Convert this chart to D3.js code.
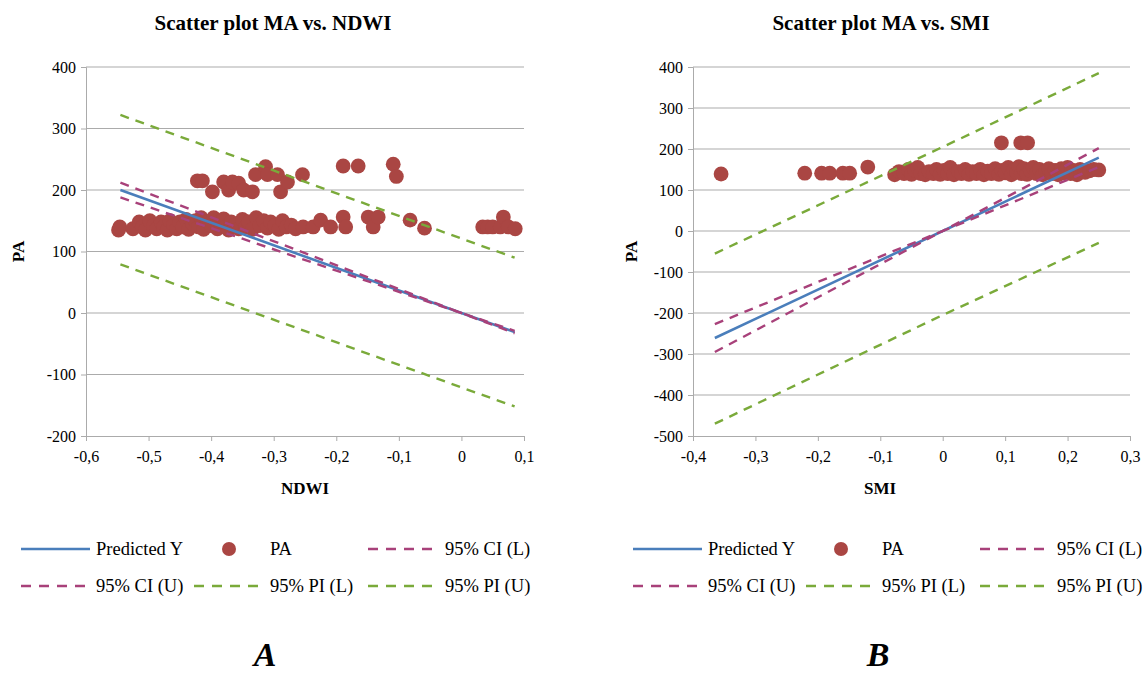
<!DOCTYPE html>
<html><head><meta charset="utf-8">
<script src="https://cdnjs.cloudflare.com/ajax/libs/d3/7.8.5/d3.min.js"></script>
<style>body{margin:0;background:#fff}svg{display:block}</style>
</head><body><svg id="c" width="1148" height="675"></svg>
<script>
// ---------- Data: chart A (NDWI) ----------
const ndwiX = [-0.548,-0.546,-0.525,-0.515,-0.510,-0.505,-0.498,-0.492,-0.487,-0.480,-0.476,-0.470,-0.466,-0.460,-0.455,-0.450,-0.445,-0.440,-0.436,-0.430,-0.425,-0.420,-0.416,-0.412,-0.405,-0.400,-0.396,-0.390,-0.386,-0.380,-0.376,-0.372,-0.368,-0.362,-0.356,-0.350,-0.345,-0.340,-0.334,-0.328,-0.322,-0.316,-0.310,-0.305,-0.298,-0.292,-0.286,-0.280,-0.272,-0.265,-0.253,-0.237,-0.225,-0.209,
 -0.189,-0.185,-0.149,-0.141,-0.133,-0.082,-0.059,0.034,0.042,0.050,0.062,0.067,0.075,0.086,
 -0.422,-0.414,-0.398,-0.380,-0.372,-0.366,-0.356,-0.348,-0.334,-0.329,-0.313,-0.310,-0.294,-0.289,-0.278,-0.254,-0.189,-0.165,-0.109,-0.104];
const ndwiPA = [135,140,137,148,140,135,150,142,137,148,140,135,150,143,137,148,140,152,136,145,150,140,155,136,148,142,155,137,148,153,140,135,148,143,137,152,140,148,136,155,142,150,138,148,142,136,150,140,143,137,140,140,151,140,
 156,140,156,140,156,151,138,140,140,140,140,156,140,137,
 215,215,197,213,200,213,211,200,197,225,238,225,225,197,213,225,239,239,242,222];
const ndwiLineX = [-0.545, 0, 0.085];
const ndwiPred  = [200, 0, -31];
const ndwiCIL   = [188, 0, -33];
const ndwiCIU   = [212, 0, -29];
const ndwiPIL   = [79, -121, -152];
const ndwiPIU   = [322, 121, 90];
const ndwiXTicks = [-0.6,-0.5,-0.4,-0.3,-0.2,-0.1,0,0.1];
const ndwiYTicks = [-200,-100,0,100,200,300,400];

// ---------- Data: chart B (SMI) ----------
const smiX = [-0.077,-0.070,-0.062,-0.055,-0.050,-0.045,-0.040,-0.035,-0.028,-0.022,-0.015,-0.010,-0.004,0.002,0.008,0.012,0.018,0.025,0.030,0.036,0.042,0.048,0.054,0.060,0.066,0.072,0.078,0.084,0.090,0.095,0.100,0.105,0.110,0.114,0.118,0.122,0.126,0.130,0.135,0.140,0.145,0.150,0.155,0.160,0.165,0.170,0.175,0.180,0.185,0.190,0.195,0.200,0.205,0.210,0.215,0.220,0.228,0.235,0.242,0.250,
 -0.355,-0.221,-0.194,-0.181,-0.160,-0.149,-0.120,
 0.094,0.125,0.136];
const smiPA = [137,145,140,150,138,148,155,140,137,145,140,150,138,148,140,155,137,145,140,150,138,145,140,150,137,146,140,152,138,148,142,155,137,150,144,157,140,152,138,148,155,140,150,137,145,152,140,148,137,152,142,155,140,148,137,150,143,147,150,149,
 139,141,141,141,141,141,156,
 215,215,215];
const smiLineX = [-0.365, 0, 0.25];
const smiPred  = [-261, 0, 179];
const smiCIL   = [-295, 0, 156];
const smiCIU   = [-227, 0, 202];
const smiPIL   = [-470, -205, -29];
const smiPIU   = [-55, 205, 385];
const smiXTicks = [-0.4,-0.3,-0.2,-0.1,0,0.1,0.2,0.3];
const smiYTicks = [-500,-400,-300,-200,-100,0,100,200,300,400];

const legendItems = ["Predicted Y","PA","95% CI (L)","95% CI (U)","95% PI (L)","95% PI (U)"];

const C = {pred:"#4A7EBB", pt:"#AA4643", ci:"#A8417A", pi:"#7AAA3A", grid:"#ABABAB"};
const FF = "'Liberation Serif','Times New Roman',serif";
const fmt = v => (v===0 ? "0" : String(v).replace(".", ","));

const svg = d3.select("#c");

function chart(o){
  const g = svg.append("g").attr("font-family",FF);
  const x = d3.scaleLinear().domain(o.xd).range([o.L, o.R]);
  const y = d3.scaleLinear().domain(o.yd).range([o.B, o.T]);
  g.selectAll(".gl").data(o.yt.filter(v=>v!==o.yd[0])).enter().append("line")
    .attr("x1",o.L).attr("x2",o.R).attr("y1",d=>y(d)).attr("y2",d=>y(d))
    .attr("stroke",C.grid).attr("stroke-width",1);
  const ya = g.append("g").attr("transform",`translate(${o.L},0)`)
    .call(d3.axisLeft(y).tickValues(o.yt).tickSize(5).tickPadding(5).tickFormat(fmt));
  const xa = g.append("g").attr("transform",`translate(0,${o.B})`)
    .call(d3.axisBottom(x).tickValues(o.xt).tickSize(5).tickPadding(10).tickFormat(fmt));
  [ya,xa].forEach(a=>{
    a.attr("font-family",FF).attr("font-size",16);
    a.selectAll("path,line").attr("stroke",C.grid);
    a.selectAll("text").attr("fill","#000");
  });
  const line = d3.line().x(d=>x(d[0])).y(d=>y(d[1]));
  const mk = (ys)=>o.lx.map((v,i)=>[v,ys[i]]);
  const pts = o.px.map((v,i)=>[v,o.py[i]]);
  g.selectAll(".pt").data(pts).enter().append("circle")
    .attr("cx",d=>x(d[0])).attr("cy",d=>y(d[1])).attr("r",7.4).attr("fill",C.pt);
  g.append("path").attr("d",line(mk(o.pred))).attr("fill","none").attr("stroke",C.pred).attr("stroke-width",2.6);
  [o.ciL,o.ciU].forEach(s=>g.append("path").attr("d",line(mk(s))).attr("fill","none")
    .attr("stroke",C.ci).attr("stroke-width",2.4).attr("stroke-dasharray","9,7"));
  [o.piL,o.piU].forEach(s=>g.append("path").attr("d",line(mk(s))).attr("fill","none")
    .attr("stroke",C.pi).attr("stroke-width",2.4).attr("stroke-dasharray","9,7"));
  g.append("text").attr("x",o.titleX).attr("y",30).attr("text-anchor","middle")
    .attr("font-size",21).attr("font-weight","bold").text(o.title);
  g.append("text").attr("x",o.xlabX).attr("y",494).attr("text-anchor","middle")
    .attr("font-size",17).attr("font-weight","bold").text(o.xlab);
  g.append("text").attr("transform",`translate(${o.ylabX},${(o.T+o.B)/2}) rotate(-90)`)
    .attr("text-anchor","middle").attr("dy","0.35em").attr("font-size",17).attr("font-weight","bold").text("PA");
  const r1 = 549, r2 = 586;
  const lg = g.append("g").attr("transform",`translate(${o.legX},0)`);
  const seg = (x1,x2,yy,col,dash)=>lg.append("line").attr("x1",x1).attr("x2",x2).attr("y1",yy).attr("y2",yy)
    .attr("stroke",col).attr("stroke-width",2.6).attr("stroke-dasharray",dash?"10,8":null);
  const txt = (xx,yy,t)=>lg.append("text").attr("x",xx).attr("y",yy+6).attr("font-size",18.5).text(t);
  seg(21,90,r1,C.pred,false); txt(96,r1,legendItems[0]);
  lg.append("circle").attr("cx",229).attr("cy",r1).attr("r",7).attr("fill",C.pt); txt(270,r1,legendItems[1]);
  seg(368,433,r1,C.ci,true); txt(445,r1,legendItems[2]);
  seg(21,86,r2,C.ci,true); txt(96,r2,legendItems[3]);
  seg(194,260,r2,C.pi,true); txt(270,r2,legendItems[4]);
  seg(368,433,r2,C.pi,true); txt(445,r2,legendItems[5]);
  g.append("text").attr("x",o.letX).attr("y",666).attr("text-anchor","middle")
    .attr("font-size",34).attr("font-weight","bold").attr("font-style","italic").text(o.letter);
}

chart({L:86,R:524,T:67,B:436,xd:[-0.6,0.1],yd:[-200,400],xt:ndwiXTicks,yt:ndwiYTicks,
  px:ndwiX,py:ndwiPA,lx:ndwiLineX,pred:ndwiPred,ciL:ndwiCIL,ciU:ndwiCIU,piL:ndwiPIL,piU:ndwiPIU,
  title:"Scatter plot MA vs. NDWI",titleX:273,xlab:"NDWI",xlabX:305,ylabX:18,legX:0,letX:265,letter:"A"});
chart({L:693,R:1130,T:67,B:436,xd:[-0.4,0.3],yd:[-500,400],xt:smiXTicks,yt:smiYTicks,
  px:smiX,py:smiPA,lx:smiLineX,pred:smiPred,ciL:smiCIL,ciU:smiCIU,piL:smiPIL,piU:smiPIU,
  title:"Scatter plot MA vs. SMI",titleX:881,xlab:"SMI",xlabX:880,ylabX:631,legX:612,letX:878,letter:"B"});
</script></body></html>
